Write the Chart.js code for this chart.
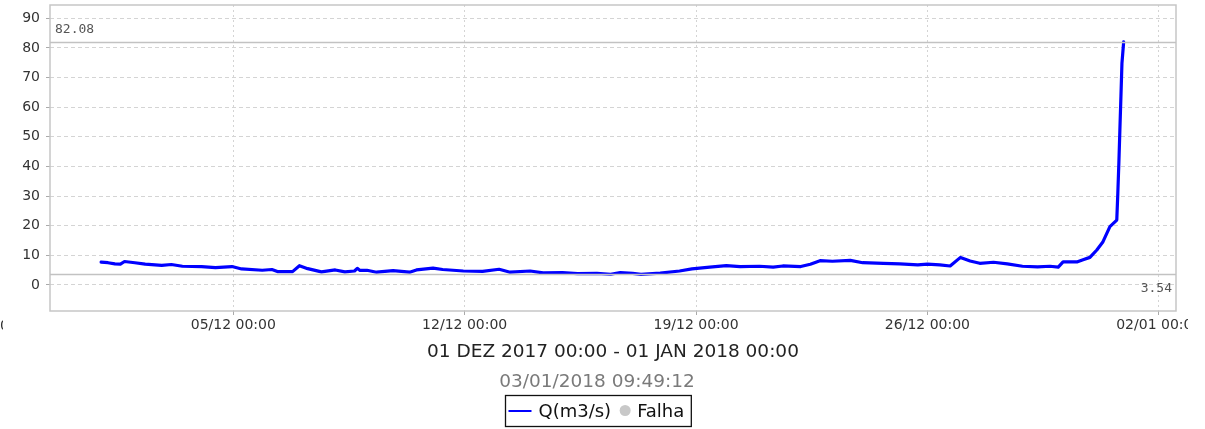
<!DOCTYPE html>
<html><head><meta charset="utf-8">
<script src="https://cdn.jsdelivr.net/npm/chart.js@4"></script>
<style>html,body{margin:0;padding:0;background:#fff;overflow:hidden}canvas{display:block}</style>
</head><body>
<canvas id="c" width="1188" height="429"></canvas>
<script>
// ---- data ----
const times = [
 '2017-12-01 00:00','2017-12-01 05:00','2017-12-01 10:00','2017-12-01 14:00','2017-12-01 17:00',
 '2017-12-02 00:30','2017-12-02 08:00','2017-12-02 20:00','2017-12-03 03:00','2017-12-03 11:00',
 '2017-12-04 01:00','2017-12-04 11:00','2017-12-04 23:00','2017-12-05 06:00','2017-12-05 21:00',
 '2017-12-06 04:00','2017-12-06 08:00','2017-12-06 19:00','2017-12-07 00:00','2017-12-07 06:00',
 '2017-12-07 16:00','2017-12-08 02:00','2017-12-08 09:00','2017-12-08 16:00','2017-12-08 18:00',
 '2017-12-08 20:00','2017-12-09 01:00','2017-12-09 08:00','2017-12-09 20:00','2017-12-10 08:00',
 '2017-12-10 13:00','2017-12-11 01:00','2017-12-11 08:00','2017-12-11 23:00','2017-12-12 13:00',
 '2017-12-13 01:00','2017-12-13 09:00','2017-12-13 23:30','2017-12-14 09:00','2017-12-14 23:00',
 '2017-12-15 10:00','2017-12-16 00:00','2017-12-16 10:00','2017-12-16 17:00','2017-12-17 02:00',
 '2017-12-17 08:00','2017-12-17 22:00','2017-12-18 12:00','2017-12-18 21:00','2017-12-19 10:00',
 '2017-12-19 22:00','2017-12-20 08:00','2017-12-20 22:00','2017-12-21 08:00','2017-12-21 15:00',
 '2017-12-22 04:00','2017-12-22 11:00','2017-12-22 18:00','2017-12-23 03:00','2017-12-23 16:00',
 '2017-12-24 01:00','2017-12-24 16:00','2017-12-25 04:00','2017-12-25 17:00','2017-12-26 00:00',
 '2017-12-26 09:00','2017-12-26 16:30','2017-12-27 00:00','2017-12-27 07:00','2017-12-27 14:00',
 '2017-12-28 00:00','2017-12-28 10:00','2017-12-28 21:00','2017-12-29 08:00','2017-12-29 17:00',
 '2017-12-29 23:00','2017-12-30 02:30','2017-12-30 13:00','2017-12-30 17:00','2017-12-30 22:00',
 '2017-12-31 03:00','2017-12-31 07:30','2017-12-31 12:30','2017-12-31 17:30','2017-12-31 18:15',
 '2017-12-31 19:00','2017-12-31 19:45','2017-12-31 20:30','2017-12-31 21:15','2017-12-31 22:30'
];
const flow = [
 7.7,7.5,7.1,7.0,7.9,
 7.5,7.0,6.6,6.9,6.3,
 6.2,5.85,6.2,5.4,4.95,
 5.2,4.5,4.5,6.5,5.5,
 4.4,5.06,4.4,4.7,5.6,
 4.9,4.95,4.3,4.8,4.3,
 5.06,5.7,5.2,4.7,4.6,
 5.3,4.3,4.7,4.05,4.15,
 3.8,3.9,3.6,4.2,3.9,
 3.54,4.0,4.7,5.4,6.0,
 6.5,6.2,6.3,6.0,6.4,
 6.2,7.0,8.2,8.0,8.3,
 7.5,7.3,7.1,6.8,7.0,
 6.8,6.4,9.3,8.1,7.3,
 7.65,7.1,6.3,6.1,6.3,
 6.0,7.8,7.8,8.5,9.3,
 11.8,14.6,19.7,21.9,30.9,
 41,52.3,63.5,74.8,82.08
];
const tickDates = ['2017-11-28 00:00','2017-12-05 00:00','2017-12-12 00:00','2017-12-19 00:00','2017-12-26 00:00','2018-01-02 00:00'];
const tickLabels = ['28/11 00:00','05/12 00:00','12/12 00:00','19/12 00:00','26/12 00:00','02/01 00:00'];
const yTicks = [0,10,20,30,40,50,60,70,80,90];
const periodTitle = '01 DEZ 2017 00:00 - 01 JAN 2018 00:00';
const generatedAt = '03/01/2018 09:49:12';
const seriesName = 'Q(m3/s)';
const faultName = 'Falha';
const xRange = ['2017-11-29 10:53','2018-01-02 12:30'];
const yRange = [-8.8, 94.5];

// ---- helpers ----
const base = Date.parse('2017-12-01T00:00:00Z');
const toDays = s => (Date.parse(s.replace(' ','T') + ':00Z') - base) / 86400000;
const points = times.map((t,i) => ({x: toDays(t), y: flow[i]}));
const tickVals = tickDates.map(toDays);
const xMin = toDays(xRange[0]), xMax = toDays(xRange[1]);
const maxVal = Math.max(...flow), minVal = Math.min(...flow);
const FONT = '"DejaVu Sans", Verdana, sans-serif';

const decor = {
  id: 'decor',
  afterDraw(chart) {
    const {ctx, chartArea: a, scales: {x, y}} = chart;
    ctx.save();
    // plot border
    ctx.strokeStyle = '#c6c6c6'; ctx.lineWidth = 1.5;
    ctx.strokeRect(a.left, a.top, a.right - a.left, a.bottom - a.top);
    // max / min lines
    ctx.strokeStyle = '#c2c2c2'; ctx.lineWidth = 1.6;
    [maxVal, minVal].forEach(v => {
      const py = Math.round(y.getPixelForValue(v)) + 0.5;
      ctx.beginPath(); ctx.moveTo(a.left, py); ctx.lineTo(a.right, py); ctx.stroke();
    });
    ctx.font = '13px "DejaVu Sans Mono", monospace';
    ctx.fillStyle = '#555';
    ctx.textBaseline = 'alphabetic';
    ctx.textAlign = 'left';
    ctx.fillText(maxVal.toFixed(2), a.left + 5, y.getPixelForValue(maxVal) - 9);
    ctx.textAlign = 'right';
    ctx.fillText(minVal.toFixed(2), a.right - 4, y.getPixelForValue(minVal) + 18);
    // left partial tick label (cut off)
    ctx.save();
    ctx.beginPath(); ctx.rect(0, a.bottom + 2, 3, 30); ctx.clip();
    ctx.font = '14px ' + FONT; ctx.fillStyle = '#333'; ctx.textAlign = 'left';
    const lbl = tickLabels[0];
    ctx.fillText(lbl.slice(-1), 0, a.bottom + 19);
    ctx.restore();
    // title + subtitle
    ctx.textAlign = 'center';
    ctx.font = '18.5px ' + FONT; ctx.fillStyle = '#222';
    ctx.fillText(periodTitle, (a.left + a.right) / 2, 357);
    ctx.fillStyle = '#7a7a7a';
    ctx.fillText(generatedAt, 597, 387);
    // legend
    ctx.font = '18px ' + FONT;
    const w1 = ctx.measureText(seriesName).width, w2 = ctx.measureText(faultName).width;
    const total = 3 + 23 + 7 + w1 + 8 + 12 + 6 + w2 + 7;
    const lx = Math.round(598 - total / 2) + 0.5, ly = 395.5, lh = 31;
    ctx.strokeStyle = '#111'; ctx.lineWidth = 1.3;
    ctx.strokeRect(lx, ly, total, lh);
    let cx = lx + 3;
    ctx.strokeStyle = '#0000ff'; ctx.lineWidth = 2;
    ctx.beginPath(); ctx.moveTo(cx, 411); ctx.lineTo(cx + 23, 411); ctx.stroke();
    cx += 23 + 7;
    ctx.textAlign = 'left'; ctx.fillStyle = '#111';
    ctx.fillText(seriesName, cx, 417);
    cx += w1 + 8;
    ctx.fillStyle = '#c8c8c8';
    ctx.beginPath(); ctx.arc(cx + 6, 410.5, 5.5, 0, Math.PI * 2); ctx.fill();
    cx += 12 + 6;
    ctx.fillStyle = '#111';
    ctx.fillText(faultName, cx, 417);
    ctx.restore();
  }
};

new Chart(document.getElementById('c'), {
  type: 'line',
  data: { datasets: [{
    label: seriesName, data: points, borderColor: '#0000ff', backgroundColor: '#0000ff',
    borderWidth: 3.2, pointRadius: 0, tension: 0, borderJoinStyle: 'round', borderCapStyle: 'round'
  }]},
  options: {
    responsive: false, animation: false, events: [],
    layout: { padding: { left: 0, top: 5, right: 12, bottom: 88 } },
    plugins: { legend: { display: false }, title: { display: false }, tooltip: { enabled: false } },
    scales: {
      x: {
        type: 'linear', min: xMin, max: xMax,
        afterBuildTicks: s => { s.ticks = tickVals.filter(v => v >= xMin && v <= xMax).map(v => ({value: v})); },
        afterFit: s => { s.height = 30; s.paddingLeft = 0; s.paddingRight = 0; },
        ticks: {
          callback: v => tickLabels[tickVals.findIndex(t => Math.abs(t - v) < 1e-6)],
          font: { family: FONT, size: 14 }, color: '#333', maxRotation: 0, autoSkip: false, padding: 2
        },
        grid: { color: '#d4d4d4', lineWidth: 1, tickLength: 4, tickColor: '#aaa' },
        border: { display: false, dash: [2, 3] }
      },
      y: {
        min: yRange[0], max: yRange[1],
        afterBuildTicks: s => { s.ticks = yTicks.map(v => ({value: v})); },
        afterFit: s => { s.width = 50; s.paddingTop = 0; s.paddingBottom = 0; },
        ticks: { font: { family: FONT, size: 14 }, color: '#333', padding: 6 },
        grid: { color: '#d4d4d4', lineWidth: 1, tickLength: 4, tickColor: '#aaa' },
        border: { display: false, dash: [4, 3] }
      }
    }
  },
  plugins: [decor]
});
</script>
</body></html>
